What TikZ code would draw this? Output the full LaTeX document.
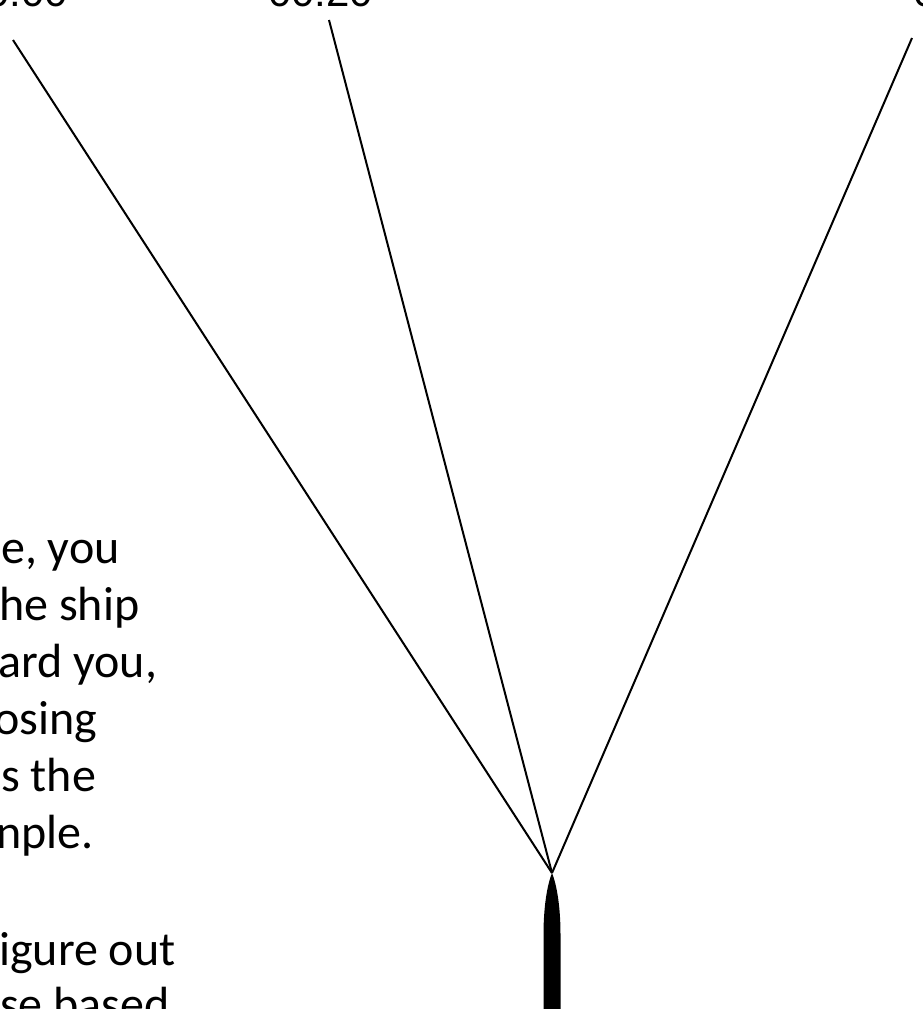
\documentclass[tikz,border=0pt]{standalone}
\usepackage{fontspec}
\usepackage{tikz}
\usetikzlibrary{arrows.meta,positioning,calc}
\setmainfont{Carlito}
\newfontfamily\labelfont{Liberation Sans}
\definecolor{inkblack}{RGB}{0,0,0}
\tikzset{
  courseline/.style={draw=inkblack, line width=2pt},
  shiphull/.style={fill=inkblack, draw=none},
  notetext/.style={anchor=base west, inner sep=0pt, text=inkblack,
    font=\fontsize{48}{57}\selectfont},
  timelabel/.style={anchor=base west, inner sep=0pt, text=inkblack,
    font=\labelfont\fontsize{42}{50}\selectfont}
}

\begin{document}
\begin{tikzpicture}[x=1pt, y=-1pt]
\useasboundingbox (0,0) rectangle (922,1009);
\clip (0,0) rectangle (922,1009);
\fill[white] (0,0) rectangle (922,1009);

% time labels along the top
\node[timelabel] (tleft) at (-14,6) {0:00};
\node[timelabel] (tmid) at (268,6) {00:20};
\node[timelabel] (tright) at (913,6) {0};

% course lines from the ship
\coordinate (bow) at (552,873);
\coordinate (endleft) at (13,40);
\coordinate (endmid) at (329,20);
\coordinate (endright) at (912,38);
\draw[courseline] (bow) -- (endleft);
\draw[courseline] (bow) -- (endmid);
\draw[courseline] (bow) -- (endright);

% the ship
\path[shiphull] (543.5,1020) -- (543.5,935)
  .. controls (543.5,900) and (549,880) .. (552,873)
  .. controls (555,880) and (560.5,900) .. (560.5,935)
  -- (560.5,1020) -- cycle;

% note on the left
\node[notetext] (lineA) at (1,563) {e, you};
\node[notetext] (lineB) at (-1,620) {he ship};
\node[notetext] (lineC) at (-2,677) {ard you,};
\node[notetext] (lineD) at (-6,734) {osing};
\node[notetext] (lineE) at (1,791) {s the};
\node[notetext] (lineF) at (-4,848) {nple.};
\node[notetext] (lineG) at (-1,965) {igure out};
\node[notetext] (lineH) at (0,1020) {se based};
\end{tikzpicture}
\end{document}
